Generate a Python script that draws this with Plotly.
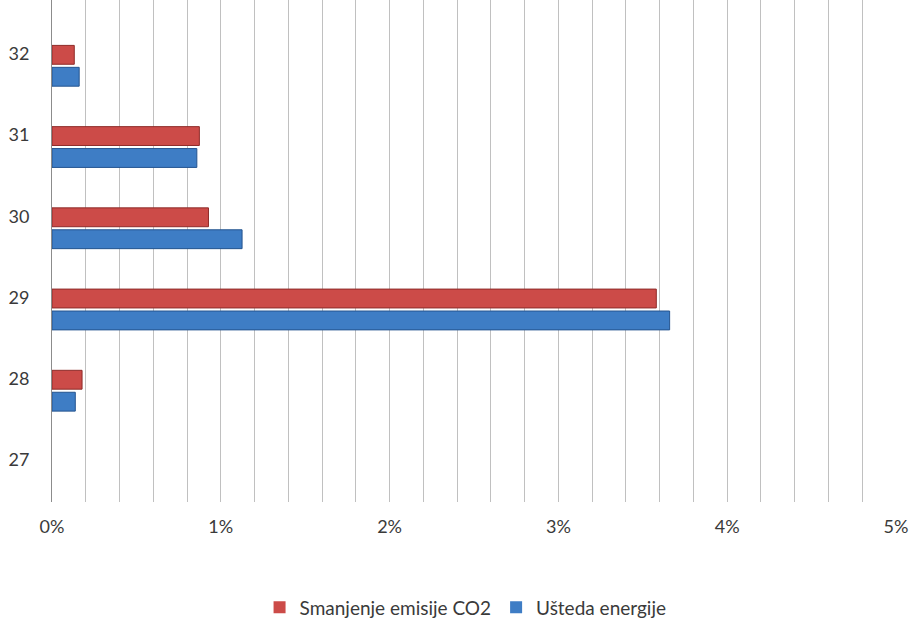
import plotly.graph_objects as go

categories = ["27", "28", "29", "30", "31", "32"]
co2_reduction = [0.0, 0.00178, 0.0358, 0.00927, 0.00873, 0.00132]
energy_saving = [0.0, 0.00138, 0.03659, 0.01126, 0.00858, 0.00161]
x_ticks = [0, 0.01, 0.02, 0.03, 0.04, 0.05]
x_tick_labels = ["0%", "1%", "2%", "3%", "4%", "5%"]

font = dict(family="Lato, 'Open Sans', sans-serif", size=18, color="#3A3A3A")
legend_font = dict(family="Lato, 'Open Sans', sans-serif", size=19, color="#3A3A3A")


def outline_widths(values):
    return [0 if v == 0 else 1 for v in values]


fig = go.Figure()
fig.add_trace(go.Bar(
    y=categories, x=energy_saving, orientation="h", name="Ušteda energije",
    marker=dict(color="#3E7DC5",
                line=dict(color="#24548F", width=outline_widths(energy_saving))),
    legendrank=2,
))
fig.add_trace(go.Bar(
    y=categories, x=co2_reduction, orientation="h", name="Smanjenje emisije CO2",
    marker=dict(color="#CC4B48",
                line=dict(color="#8E2B29", width=outline_widths(co2_reduction))),
    legendrank=1,
))

fig.update_layout(
    width=909, height=621,
    margin=dict(l=52, r=13, t=0, b=119, autoexpand=False),
    paper_bgcolor="white", plot_bgcolor="white",
    barmode="group", bargap=0.46, bargroupgap=0.14,
    font=font,
    showlegend=True,
    legend=dict(orientation="h", x=0.49, xanchor="center", y=-0.21, yanchor="middle",
                font=legend_font, itemwidth=30, traceorder="normal"),
    xaxis=dict(
        range=[0, 0.05], tickvals=x_ticks, ticktext=x_tick_labels,
        showgrid=True, gridcolor="#C0C0C0", gridwidth=1,
        minor=dict(dtick=0.002, showgrid=True, gridcolor="#C0C0C0", gridwidth=1),
        zeroline=False, showline=False, ticklabelstandoff=12,
        tickfont=font, automargin=False,
    ),
    yaxis=dict(
        type="category", range=[-0.37, 5.81],
        showgrid=False, zeroline=False, showline=True, linecolor="#8C8C8C", linewidth=1,
        ticks="", ticklabelstandoff=18, ticklabelshift=-12, tickfont=font,
        automargin=False,
    ),
)

fig.write_html(
    "out.html",
    config={"displayModeBar": False},
    post_script="document.body.style.margin='0';document.body.style.padding='0';",
)
